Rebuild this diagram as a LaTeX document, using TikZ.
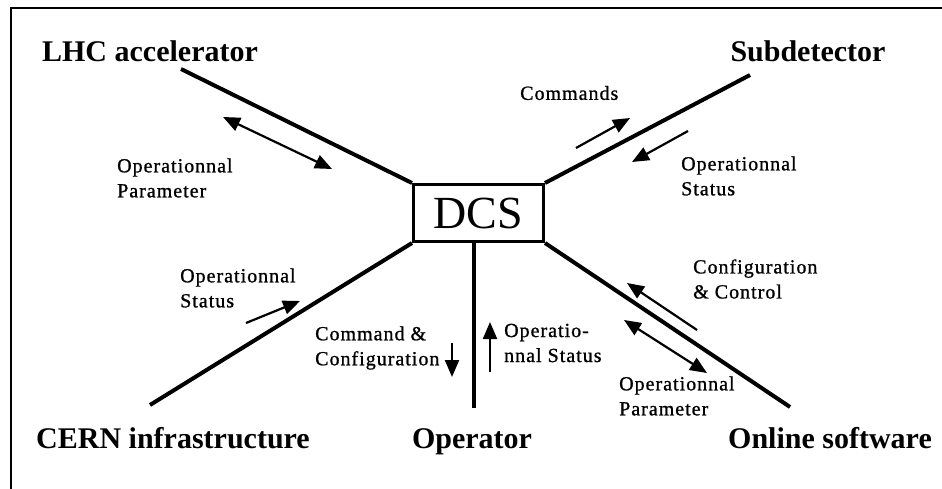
\documentclass[tikz,border=0pt]{standalone}
\usepackage{fontspec}
\setmainfont{Liberation Serif}
\newfontfamily\notefont[LetterSpace=5,FakeBold=1]{Liberation Serif}
\usetikzlibrary{arrows.meta}
\tikzset{
  party/.style={anchor=base, font=\fontsize{30}{32}\selectfont\bfseries},
  note/.style={anchor=west, align=left, inner sep=0pt, font=\notefont\fontsize{20}{25}\selectfont},
  link/.style={line width=4pt},
  flow/.style={line width=2.2pt, -{Triangle[length=17pt,width=14pt]}},
  dflow/.style={line width=2.2pt, {Triangle[length=17pt,width=14pt]}-{Triangle[length=17pt,width=14pt]}},
}

\begin{document}
\begin{tikzpicture}[x=1pt, y=-1pt]
    \useasboundingbox (0,0) rectangle (942,489);
    \draw [line width=1.2pt] (11,489) -- (11,8) -- (942,8);
    \node[draw, line width=3pt, minimum width=130pt, minimum height=57pt, font=\fontsize{46}{46}\selectfont] (dcs) at (478.5,213) {DCS};
    \node[party] (lhc) at (150,62) {LHC accelerator};
    \node[party] (sub) at (808,62) {Subdetector};
    \node[party] (cern) at (173,448) {CERN infrastructure};
    \node[party] (op) at (472,448) {Operator};
    \node[party] (onl) at (830,448) {Online software};
    % free ends of the links
    \coordinate (lhcend) at (181,69);
    \coordinate (subend) at (750,75);
    \coordinate (cernend) at (150,405);
    \coordinate (opend) at (474,408);
    \coordinate (onlend) at (790,407);
    \draw [link] (dcs.north west) to (lhcend);
    \draw [link] (dcs.north east) to (subend);
    \draw [link] (dcs.south west) to (cernend);
    \draw [link] (dcs.south -| opend) to (opend);
    \draw [link] (dcs.south east) to (onlend);
    % labels
    \node[note] (lhcpar) at (117,178) {Operationnal\\Parameter};
    \node[note] (subcmd) at (520,93) {Commands};
    \node[note] (substat) at (681,176) {Operationnal\\Status};
    \node[note] (cernstat) at (180,288) {Operationnal\\Status};
    \node[note] (opcmd) at (315,348) {Command \&\\Configuration};
    \node[note] (opstat) at (504,343) {Operatio-\\nnal Status};
    \node[note] (onlconf) at (693,279) {Configuration\\\& Control};
    \node[note] (onlpar) at (619,396) {Operationnal\\Parameter};
    % small arrows
    \coordinate (a1) at (223,117);  \coordinate (b1) at (332,169);
    \coordinate (a2) at (576,148);  \coordinate (b2) at (630,118);
    \coordinate (a3) at (688,131);  \coordinate (b3) at (632,162);
    \coordinate (a4) at (246,323);  \coordinate (b4) at (300,301);
    \coordinate (a5) at (452,343);  \coordinate (b5) at (452,377);
    \coordinate (a6) at (490,372);  \coordinate (b6) at (490,322);
    \coordinate (a7) at (697,330);  \coordinate (b7) at (627,283);
    \coordinate (a8) at (624,320);  \coordinate (b8) at (707,373);
    \draw [dflow] (a1) to (b1);
    \draw [flow] (a2) to (b2);
    \draw [flow] (a3) to (b3);
    \draw [flow] (a4) to (b4);
    \draw [flow] (a5) to (b5);
    \draw [flow] (a6) to (b6);
    \draw [flow] (a7) to (b7);
    \draw [dflow] (a8) to (b8);
\end{tikzpicture}
\end{document}
